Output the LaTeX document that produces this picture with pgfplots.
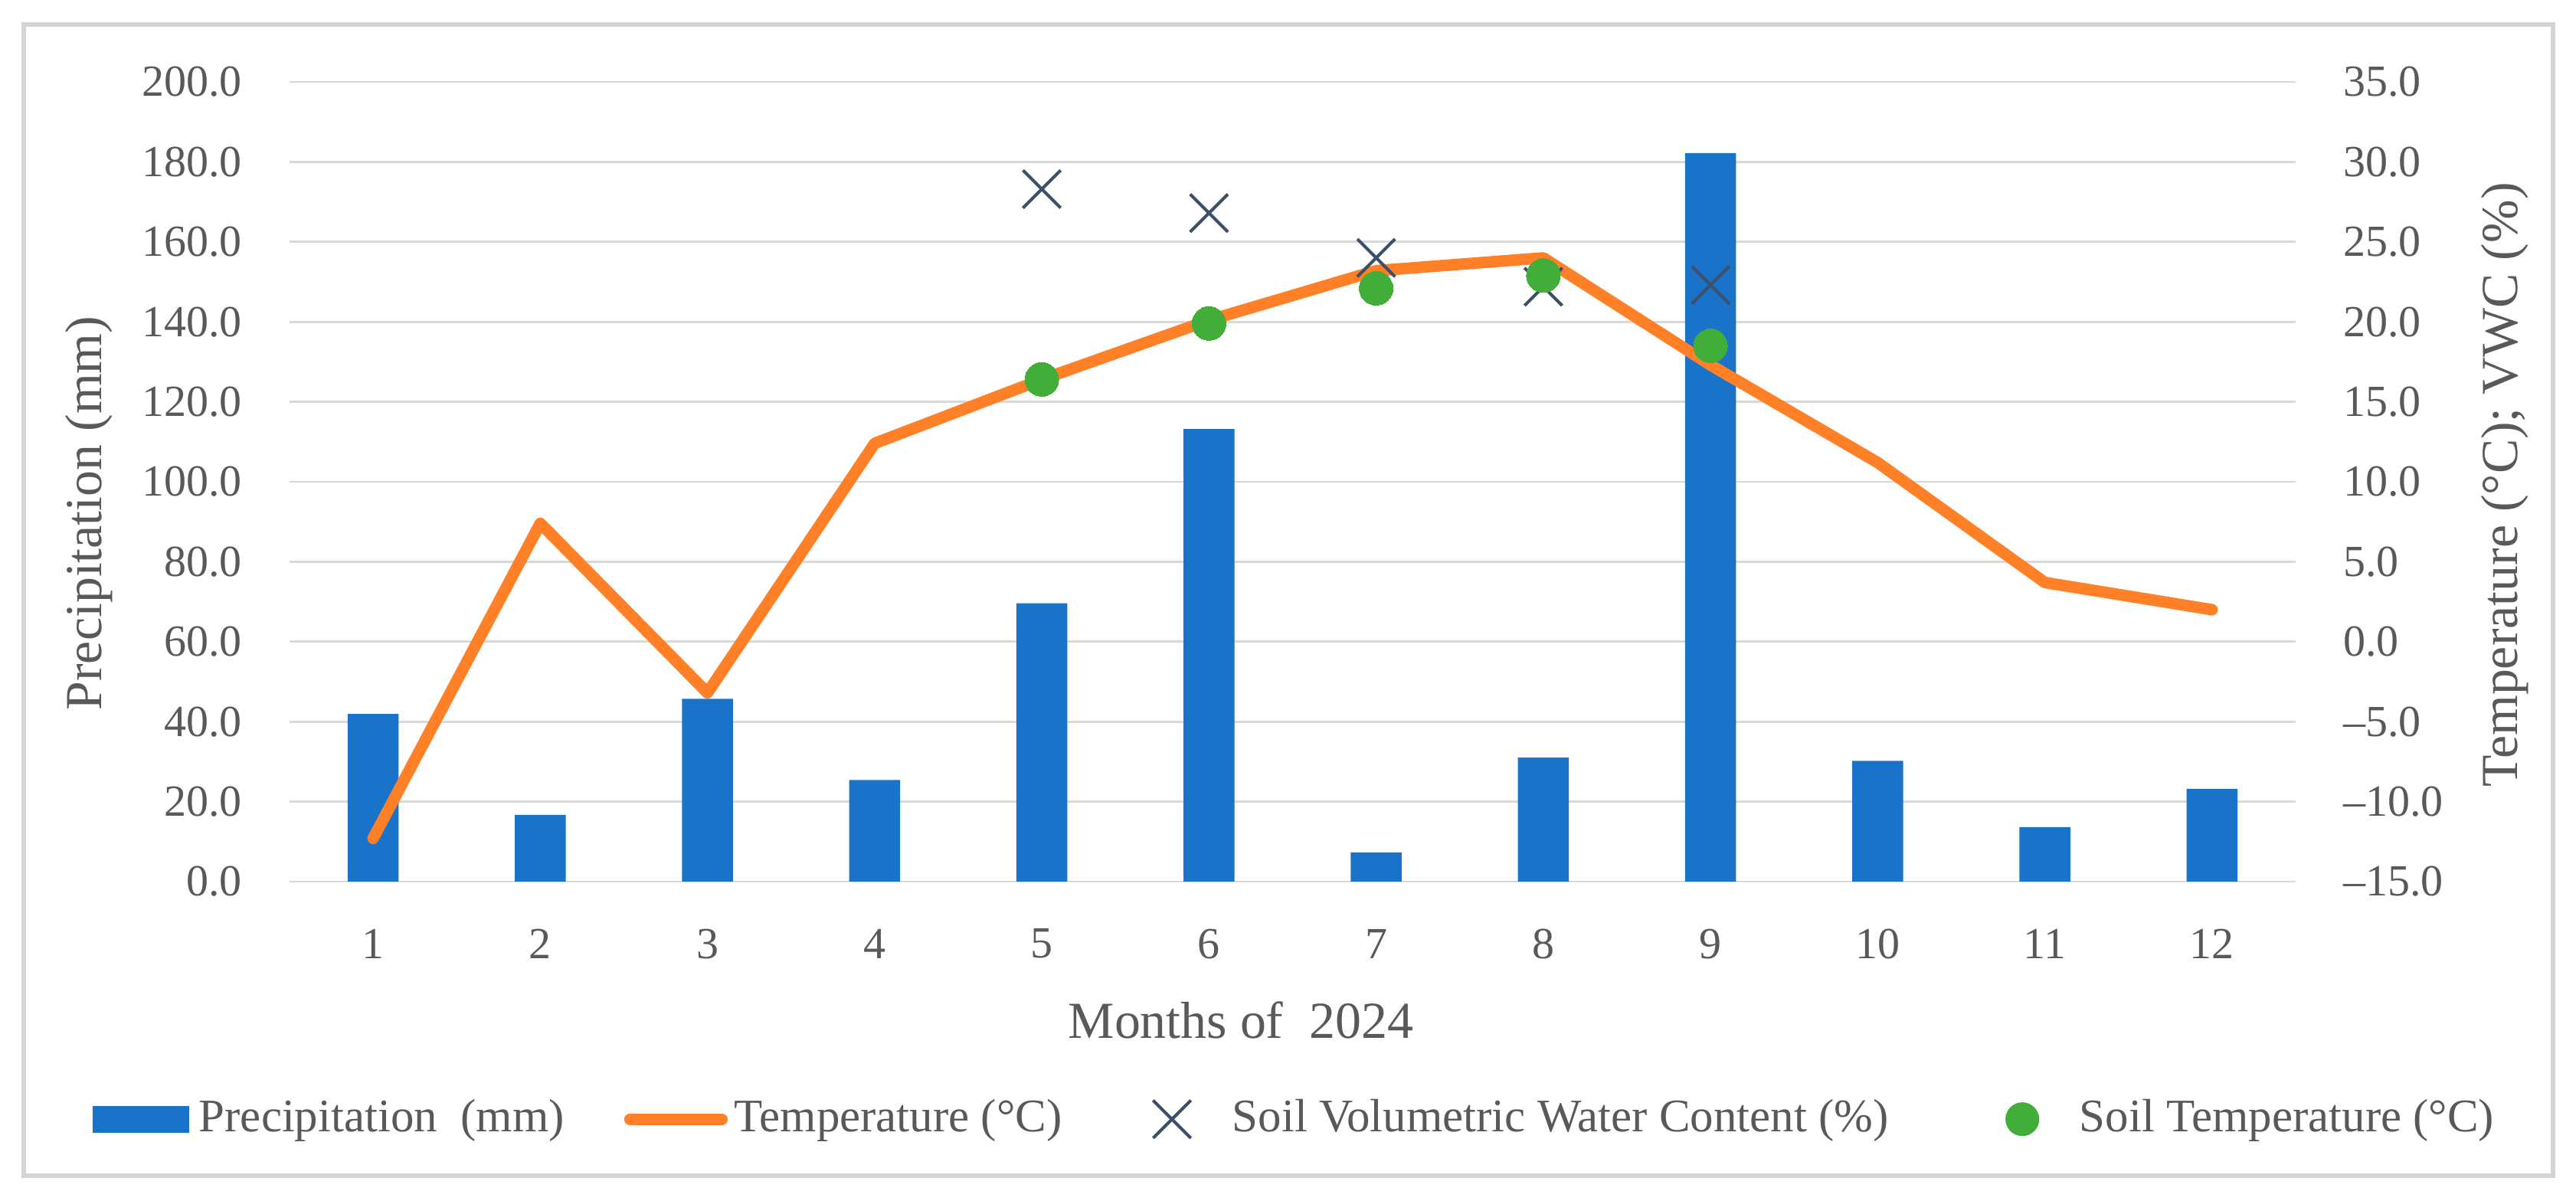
\documentclass[border=0pt]{standalone}
\usepackage{fontspec}
\setmainfont{Liberation Serif}
\usepackage{pgfplots}
\pgfplotsset{compat=1.18}
\definecolor{barblue}{RGB}{24,115,201}
\definecolor{orng}{RGB}{255,128,39}
\definecolor{grn}{RGB}{67,173,58}
\definecolor{crosscol}{RGB}{61,80,104}
\definecolor{textgray}{RGB}{89,89,89}
\definecolor{gridgray}{RGB}{217,217,217}
\definecolor{framegray}{RGB}{212,212,212}
\begin{document}
\begin{tikzpicture}
\useasboundingbox (0pt,0pt) rectangle (579.83pt,270.34pt);
\fill[white] (0pt,0pt) rectangle (579.83pt,270.34pt);
\draw[framegray, line width=0.9pt] (5.34pt,5.68pt) rectangle (574.66pt,264.82pt);
% left axis: precipitation
\begin{axis}[
  at={(65.17pt,71.9pt)}, anchor=south west,
  scale only axis, width=451.55pt, height=179.99pt,
  xmin=0.5, xmax=12.5, ymin=0, ymax=200,
  xtick={1,2,3,4,5,6,7,8,9,10,11,12},
  xticklabels={1,2,3,4,5,6,7,8,9,10,11,12},
  ytick={0,20,40,60,80,100,120,140,160,180,200},
  yticklabels={0.0,20.0,40.0,60.0,80.0,100.0,120.0,140.0,160.0,180.0,200.0},
  ymajorgrids, grid style={draw=gridgray, line width=0.5pt},
  axis line style={draw=none}, major tick length=0pt, tick style={draw=none},
  xticklabel style={font=\fontsize{10}{12}\selectfont, text=textgray, anchor=center, inner sep=0pt, yshift=-14pt},
  yticklabel style={font=\fontsize{10}{12}\selectfont, text=textgray, anchor=east, inner sep=0pt, xshift=-10.5pt},
]
\addplot[ybar, bar width=11.5pt, fill=barblue, draw=none] coordinates {
 (1,41.9) (2,16.7) (3,45.7) (4,25.4) (5,69.6) (6,113.2)
 (7,7.3) (8,31.0) (9,182.2) (10,30.2) (11,13.6) (12,23.2)};
\end{axis}
% right axis: temperatures and VWC
\begin{axis}[
  at={(65.17pt,71.9pt)}, anchor=south west,
  scale only axis, width=451.55pt, height=179.99pt,
  xmin=0.5, xmax=12.5, ymin=-15, ymax=35,
  xtick=\empty,
  ytick={-15,-10,-5,0,5,10,15,20,25,30,35},
  yticklabels={–15.0,–10.0,–5.0,0.0,5.0,10.0,15.0,20.0,25.0,30.0,35.0},
  ytick pos=right, yticklabel pos=right,
  axis line style={draw=none}, major tick length=0pt, tick style={draw=none},
  yticklabel style={font=\fontsize{10}{12}\selectfont, text=textgray, anchor=west, inner sep=0pt, xshift=10.5pt},
  legend columns=4,
  legend cell align=left,
  legend style={at={(axis description cs:-0.09804,-0.2972)}, anchor=west,
    draw=none, fill=none, inner sep=0pt, outer sep=0pt,
    column sep=0pt, row sep=0pt,
    nodes={inner sep=0pt, outer sep=0pt},
    font=\fontsize{10.5}{12}\selectfont, text=textgray},
]
\addlegendimage{legend image code/.code={
  \path[draw=none, fill=none] (0pt,-4.5pt) rectangle (23.9pt,4.5pt);
  \fill[barblue, draw=none] (0pt,-3pt) rectangle (21.6pt,3pt);}}
\addlegendentry{\makebox[95.7pt][l]{Precipitation\ \ (mm)}}
\addlegendimage{legend image code/.code={
  \path[draw=none, fill=none] (0pt,-4.5pt) rectangle (24.8pt,4.5pt);
  \draw[orng, line width=2.6pt, line cap=round, fill=none] (1.3pt,0pt) -- (22pt,0pt);}}
\addlegendentry{\makebox[90.7pt][l]{Temperature (°C)}}
\addlegendimage{legend image code/.code={
  \path[draw=none, fill=none] (0pt,-4.5pt) rectangle (21.4pt,4.5pt);
  \draw[crosscol, line width=0.7pt, fill=none] (3.55pt,-4.25pt) -- (12.05pt,4.25pt) (3.55pt,4.25pt) -- (12.05pt,-4.25pt);}}
\addlegendentry{\makebox[170pt][l]{Soil Volumetric Water Content (\%)}}
\addlegendimage{legend image code/.code={
  \path[draw=none, fill=none] (0pt,-4.5pt) rectangle (20.7pt,4.5pt);
  \fill[grn, draw=none] (7.8pt,0pt) circle (3.8pt);}}
\addlegendentry{Soil Temperature (°C)}
\addplot[forget plot, orng, line width=2.6pt, line join=round, line cap=round, mark=none] coordinates {
 (1,-12.3) (2,7.4) (3,-3.2) (4,12.4) (5,16.4) (6,20.1)
 (7,23.2) (8,24.0) (9,17.3) (10,11.2) (11,3.7) (12,2.0)};
\addplot[forget plot, crosscol, only marks, mark=x, mark size=6pt, mark options={draw=crosscol, line width=0.7pt}] coordinates {
 (5,28.3) (6,26.8) (7,24.0) (8,22.2) (9,22.3)};
\addplot[forget plot, grn, only marks, mark=*, mark size=3.8pt, mark options={draw=grn, fill=grn, line width=0pt}] coordinates {
 (5,16.4) (6,19.9) (7,22.1) (8,22.9) (9,18.5)};
\end{axis}
\node[font=\fontsize{11.7}{14}\selectfont, text=textgray, anchor=base] at (279.3pt,36.7pt) {Months of\ \ 2024};
\node[font=\fontsize{11.7}{14}\selectfont, text=textgray, anchor=base, rotate=90] at (22.8pt,154.8pt) {Precipitation (mm)};
\node[font=\fontsize{11.7}{14}\selectfont, text=textgray, anchor=base, rotate=90] at (566.7pt,161.2pt) {Temperature (°C); VWC (\%)};
\end{tikzpicture}
\end{document}
